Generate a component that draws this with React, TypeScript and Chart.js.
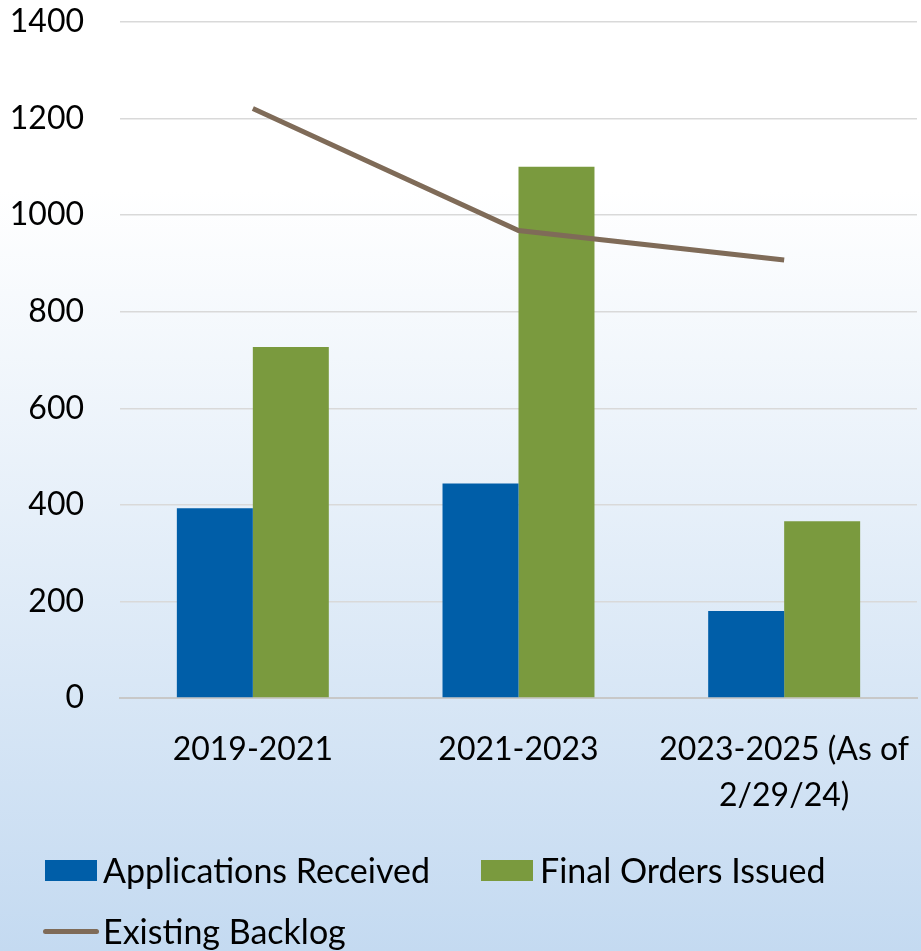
import React, { useEffect, useRef } from "react";
import { Chart, registerables } from "chart.js";

Chart.register(...registerables);

const categories: (string | string[])[] = ["2019-2021", "2021-2023", ["2023-2025 (As of", "2/29/24)"]];
const applicationsReceived = [393, 444, 180];
const finalOrdersIssued = [727, 1100, 366];
const existingBacklog = [1221, 968, 907];
const yTicks = [0, 200, 400, 600, 800, 1000, 1200, 1400];

const BLUE = "#005ea8";
const GREEN = "#7a9a3e";
const BROWN = "#7f6b58";
const FONT = "Lato, 'Open Sans', sans-serif";
const FS = 32;
const LFS = 34;

export default function App() {
  const ref = useRef<HTMLCanvasElement | null>(null);

  useEffect(() => {
    document.body.style.margin = "0";
    const ctx = ref.current!;
    const chart = new Chart(ctx, {
      data: {
        labels: categories,
        datasets: [
          {
            type: "line",
            label: "Existing Backlog",
            data: existingBacklog,
            borderColor: BROWN,
            backgroundColor: BROWN,
            borderWidth: 5,
            pointRadius: 0,
            tension: 0,
            order: 0,
          },
          {
            type: "bar",
            label: "Applications Received",
            data: applicationsReceived,
            backgroundColor: BLUE,
            categoryPercentage: 0.572,
            barPercentage: 1.0,
            order: 1,
          },
          {
            type: "bar",
            label: "Final Orders Issued",
            data: finalOrdersIssued,
            backgroundColor: GREEN,
            categoryPercentage: 0.572,
            barPercentage: 1.0,
            order: 1,
          },
        ],
      },
      options: {
        responsive: false,
        animation: false,
        maintainAspectRatio: false,
        layout: { padding: { top: 22, right: 4, left: 0, bottom: 0 } },
        plugins: { legend: { display: false }, tooltip: { enabled: false } },
        scales: {
          x: {
            grid: { display: false, drawTicks: false },
            border: { display: true, color: "#c8c8c8", width: 2 },
            ticks: {
              color: "#000",
              font: { family: FONT, size: FS, lineHeight: 1.45 },
              padding: 28,
              maxRotation: 0,
              autoSkip: false,
            },
            afterFit: (s: any) => {
              s.height = 951 - 698;
              s.paddingLeft = 0;
              s.paddingRight = 0;
            },
          },
          y: {
            min: 0,
            max: 1400,
            afterBuildTicks: (s: any) => {
              s.ticks = yTicks.map((v) => ({ value: v }));
            },
            grid: { color: "#d9d9d9", lineWidth: 1.5, drawTicks: false },
            border: { display: false },
            ticks: {
              color: "#000",
              font: { family: FONT, size: FS },
              padding: 36,
              callback: (v: any) => String(v),
            },
            afterFit: (s: any) => {
              s.width = 120;
              s.paddingTop = 0;
              s.paddingBottom = 0;
            },
          },
        },
      },
    });
    return () => chart.destroy();
  }, []);

  const legendText: React.CSSProperties = {
    position: "absolute",
    fontFamily: FONT,
    fontSize: LFS,
    color: "#000",
    lineHeight: "1",
    whiteSpace: "nowrap",
  };

  return (
    <div
      style={{
        position: "relative",
        width: 921,
        height: 951,
        background: "linear-gradient(180deg, #ffffff 0%, #ffffff 20%, #c4daf1 100%)",
        overflow: "hidden",
      }}
    >
      <canvas ref={ref} width={921} height={951} style={{ display: "block" }} />
      <div style={{ position: "absolute", left: 45, top: 860, width: 52, height: 21, background: BLUE }} />
      <div style={{ ...legendText, left: 103, top: 853 }}>Applications Received</div>
      <div style={{ position: "absolute", left: 481, top: 860, width: 52, height: 21, background: GREEN }} />
      <div style={{ ...legendText, left: 540, top: 853 }}>Final Orders Issued</div>
      <div style={{ position: "absolute", left: 43, top: 929, width: 56, height: 5, borderRadius: 3, background: BROWN }} />
      <div style={{ ...legendText, left: 103, top: 914 }}>Existing Backlog</div>
    </div>
  );
}
